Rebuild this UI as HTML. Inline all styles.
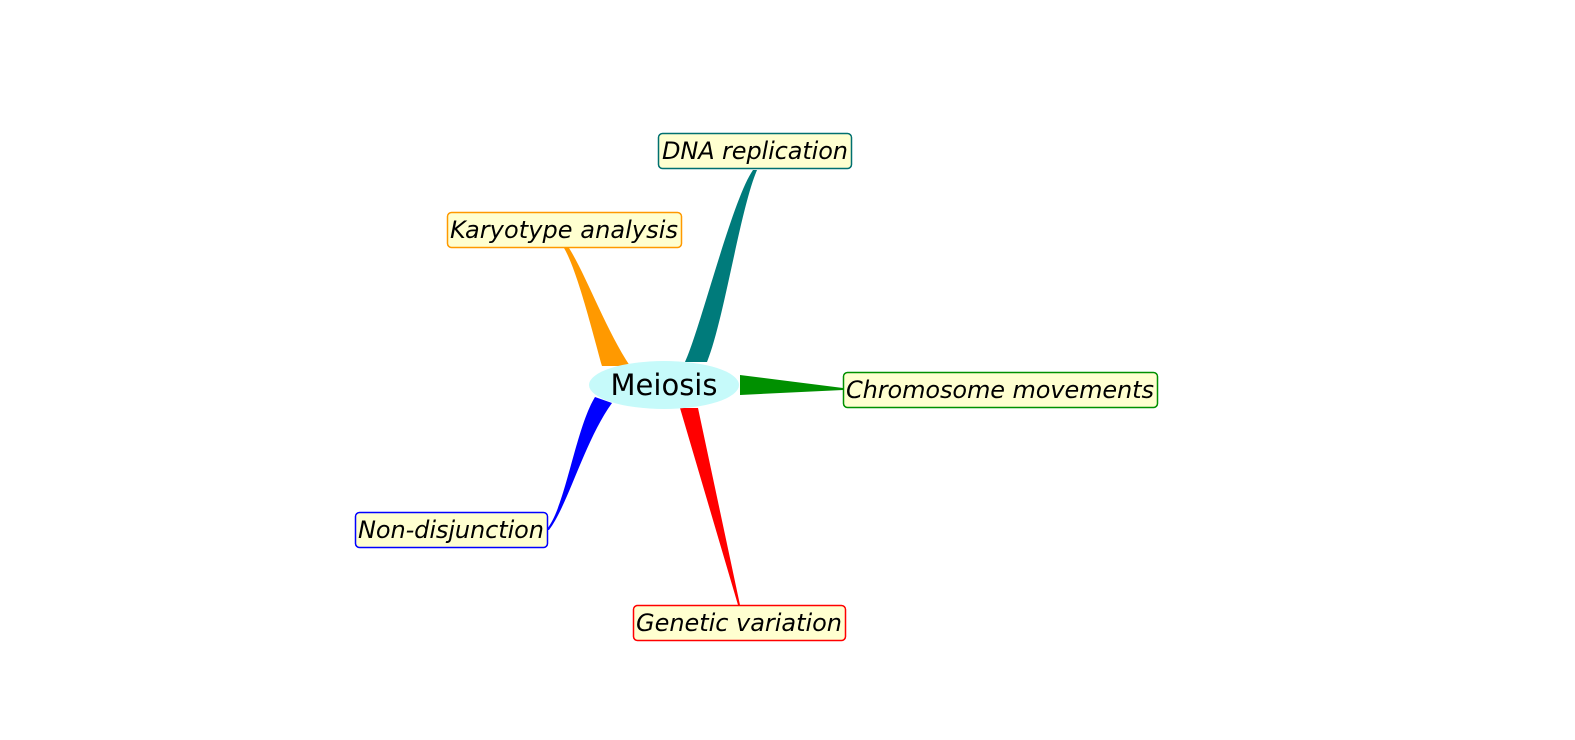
<!DOCTYPE html>
<html><head><style>
html,body{margin:0;padding:0;background:#fff;}
svg{display:block;}
text{font-family:"DejaVu Sans","Liberation Sans",sans-serif;}
.l{font-style:italic;font-size:24px;fill:#000;}
</style></head><body>
<svg width="1575" height="740" viewBox="0 0 1575 740">
<path d="M685,362 C700,330 732,200 753,170 L757,170 C740,210 724,320 707,362 Z" fill="#007b7b"/>
<path d="M602,366 C592,330 577,270 564,248 L569,248 C586,275 606,330 630,366 Z" fill="#f90"/>
<path d="M740,375 L843,388 L843,390 L740,395 Z" fill="#009000"/>
<path d="M595,397 C575,430 565,510 546,530 L549,530 C568,505 585,440 612,403 Z" fill="#00f"/>
<path d="M680,408 L698,408 L740,605 L738,605 Z" fill="#f00"/>
<ellipse cx="664" cy="385" rx="75" ry="24" fill="#c6fafa"/>
<text x="664" y="395" font-size="29" text-anchor="middle">Meiosis</text>
<rect x="658.5" y="133.5" width="193" height="35" rx="4" fill="#ffffd0" stroke="#007070" stroke-width="1.5"/>
<text class="l" x="755" y="159" text-anchor="middle" textLength="186">DNA replication</text>
<rect x="447.5" y="212.5" width="234" height="35" rx="4" fill="#ffffd0" stroke="#f90" stroke-width="1.5"/>
<text class="l" x="564" y="238" text-anchor="middle" textLength="228">Karyotype analysis</text>
<rect x="843.5" y="372.5" width="314" height="35" rx="4" fill="#ffffd0" stroke="#009000" stroke-width="1.5"/>
<text class="l" x="1000" y="398" text-anchor="middle" textLength="308">Chromosome movements</text>
<rect x="355.5" y="512.5" width="192" height="35" rx="4" fill="#ffffd0" stroke="#00f" stroke-width="1.5"/>
<text class="l" x="451" y="538" text-anchor="middle" textLength="186">Non-disjunction</text>
<rect x="633.5" y="605.5" width="212" height="35" rx="4" fill="#ffffd0" stroke="#f00" stroke-width="1.5"/>
<text class="l" x="739" y="631" text-anchor="middle" textLength="206">Genetic variation</text>
</svg>
</body></html>
